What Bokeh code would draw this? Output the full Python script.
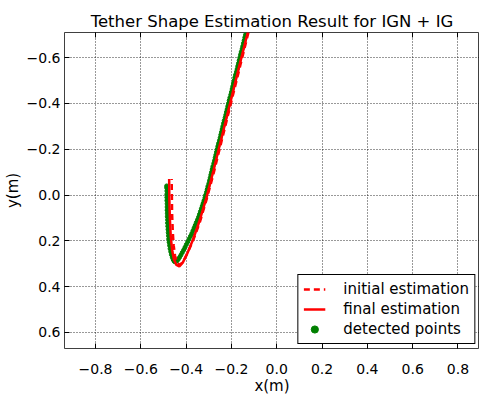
from bokeh.plotting import figure
from bokeh.models import Range1d, FixedTicker, CustomJSTickFormatter, Legend, LegendItem, LinearAxis
from bokeh.embed import file_html
from bokeh.resources import INLINE

title_text = "Tether Shape Estimation Result for IGN + IG"
x_ticks = [-0.8, -0.6, -0.4, -0.2, 0.0, 0.2, 0.4, 0.6, 0.8]
y_ticks = [-0.6, -0.4, -0.2, 0.0, 0.2, 0.4, 0.6]

x_init = [-0.125, -0.16, -0.19, -0.22, -0.25, -0.28, -0.31, -0.34, -0.37, -0.395,
          -0.413, -0.428, -0.44, -0.449, -0.455, -0.459, -0.462, -0.463, -0.464]
y_init = [-0.71, -0.57, -0.45, -0.33, -0.21, -0.09, 0.02, 0.12, 0.2, 0.255,
          0.29, 0.305, 0.295, 0.265, 0.22, 0.16, 0.08, 0.0, -0.07]

x_fin = [-0.128, -0.16, -0.19, -0.22, -0.25, -0.28, -0.31, -0.34, -0.37, -0.395,
         -0.415, -0.43, -0.443, -0.454, -0.462, -0.468, -0.472, -0.474, -0.475]
y_fin = [-0.71, -0.585, -0.465, -0.345, -0.225, -0.105, 0.01, 0.11, 0.195, 0.255,
         0.295, 0.312, 0.305, 0.28, 0.24, 0.18, 0.10, 0.02, -0.07]

x_det = [-0.138, -0.141, -0.144, -0.147, -0.150, -0.153, -0.157, -0.160, -0.163, -0.166,
         -0.169, -0.172, -0.175, -0.178, -0.182, -0.185, -0.188, -0.191, -0.194, -0.197,
         -0.200, -0.203, -0.207, -0.210, -0.213, -0.216, -0.219, -0.222, -0.225, -0.228,
         -0.232, -0.235, -0.238, -0.241, -0.244, -0.247, -0.250, -0.253, -0.257, -0.260,
         -0.263, -0.266, -0.269, -0.272, -0.275, -0.278, -0.282, -0.285, -0.288, -0.291,
         -0.294, -0.297, -0.300, -0.304, -0.307, -0.310, -0.314, -0.317, -0.321, -0.325,
         -0.329, -0.333, -0.337, -0.341, -0.345, -0.350, -0.355, -0.360, -0.365, -0.370,
         -0.375, -0.381, -0.387, -0.393, -0.399, -0.405, -0.411, -0.417, -0.423, -0.429,
         -0.435, -0.441, -0.447, -0.452, -0.457, -0.461, -0.465, -0.468, -0.471, -0.473,
         -0.475, -0.477, -0.478, -0.479, -0.480, -0.481, -0.482, -0.482, -0.483, -0.483,
         -0.484, -0.484, -0.484, -0.485, -0.485, -0.485, -0.485, -0.486, -0.486]
y_det = [-0.700, -0.688, -0.675, -0.663, -0.650, -0.638, -0.625, -0.613, -0.600, -0.588,
         -0.575, -0.563, -0.550, -0.538, -0.525, -0.513, -0.500, -0.488, -0.475, -0.463,
         -0.450, -0.438, -0.425, -0.413, -0.400, -0.388, -0.375, -0.363, -0.350, -0.338,
         -0.325, -0.313, -0.300, -0.288, -0.275, -0.263, -0.250, -0.238, -0.225, -0.213,
         -0.200, -0.188, -0.175, -0.163, -0.150, -0.138, -0.125, -0.113, -0.100, -0.088,
         -0.075, -0.063, -0.050, -0.038, -0.025, -0.013, 0.000, 0.012, 0.024, 0.036,
         0.048, 0.060, 0.072, 0.084, 0.096, 0.108, 0.120, 0.132, 0.144, 0.156,
         0.168, 0.180, 0.192, 0.204, 0.216, 0.228, 0.240, 0.251, 0.262, 0.272,
         0.281, 0.288, 0.292, 0.290, 0.282, 0.272, 0.260, 0.247, 0.234, 0.220,
         0.206, 0.192, 0.178, 0.164, 0.150, 0.136, 0.122, 0.108, 0.094, 0.080,
         0.066, 0.052, 0.038, 0.024, 0.010, -0.004, -0.018, -0.032, -0.040]

FONT = "DejaVu Sans"

p = figure(width=479, height=397, output_backend="svg", toolbar_location=None,
           x_range=Range1d(-0.937, 0.895), y_range=Range1d(0.67, -0.71),
           min_border_left=57, min_border_right=0, min_border_top=32, min_border_bottom=46)

p.title.text = title_text
p.title.text_font = FONT
p.title.text_font_size = "16.5px"
p.title.text_font_style = "normal"
p.title.text_color = "black"
p.title.align = "center"
p.title.standoff = 4

p.outline_line_color = "black"
p.outline_line_alpha = 0.75
p.outline_line_width = 1

fmt = CustomJSTickFormatter(code="return tick.toFixed(1).replace('-', '\u2212');")
for ax, ticks, lbl in ((p.xaxis[0], x_ticks, "x(m)"), (p.yaxis[0], y_ticks, "y(m)")):
    ax.ticker = FixedTicker(ticks=ticks)
    ax.formatter = fmt
    ax.axis_label = lbl
    ax.axis_label_text_font = FONT
    ax.axis_label_text_font_size = "15px"
    ax.axis_label_text_font_style = "normal"
    ax.axis_label_text_color = "black"
    ax.axis_label_standoff = 2
    ax.major_label_text_font = FONT
    ax.major_label_text_font_size = "14px"
    ax.major_label_text_color = "black"
    ax.major_label_standoff = 4
    ax.axis_line_color = None
    ax.major_tick_in = 5
    ax.major_tick_out = 0
    ax.major_tick_line_color = "black"
    ax.minor_tick_line_color = None
p.xaxis[0].major_label_standoff = 15
p.xaxis[0].axis_label_standoff = 0

top_ax = LinearAxis(ticker=FixedTicker(ticks=x_ticks),
                    formatter=CustomJSTickFormatter(code="return '';"),
                    major_label_standoff=0, axis_line_color=None, major_tick_in=5,
                    major_tick_out=0, minor_tick_line_color=None, major_tick_line_color="black")
p.add_layout(top_ax, "above")

p.xgrid.ticker = FixedTicker(ticks=x_ticks)
p.ygrid.ticker = FixedTicker(ticks=y_ticks)
for g in (p.xgrid[0], p.ygrid[0]):
    g.grid_line_color = "black"
    g.grid_line_dash = "1 2"
    g.grid_line_alpha = 0.8
    g.grid_line_width = 1

det = p.scatter(x_det, y_det, size=4, color="green", line_color="green")
ini = p.line(x_init, y_init, line_color="red", line_width=2.5, line_dash="6 4")
fin = p.line(x_fin, y_fin, line_color="red", line_width=2.5)

legend = Legend(items=[LegendItem(label="initial estimation", renderers=[ini]),
                       LegendItem(label="final estimation", renderers=[fin]),
                       LegendItem(label="detected points", renderers=[det])],
                location="bottom_right")
legend.label_text_font = FONT
legend.label_text_font_size = "15px"
legend.label_text_color = "black"
legend.border_line_color = "black"
legend.border_line_alpha = 1
legend.background_fill_alpha = 1
legend.glyph_width = 22
legend.glyph_height = 18
legend.label_height = 18
legend.label_standoff = 18
legend.spacing = 2
legend.padding = 5
legend.margin = 4
p.add_layout(legend)

open("out.html", "w").write(file_html(p, INLINE))
